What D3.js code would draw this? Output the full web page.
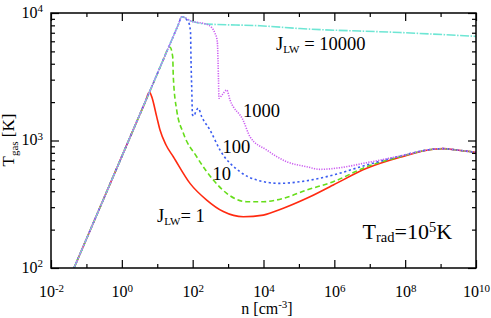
<!DOCTYPE html>
<html>
<head>
<meta charset="utf-8">
<script src="https://cdn.jsdelivr.net/npm/d3@7"></script>
<style>
body { margin: 0; background: #fff; }
</style>
</head>
<body>
<script>
// n [cm^-3] and T_gas [K], one pair of arrays per J_LW
var nJ1 = [0.0446, 1, 3.5, 4.6, 6.0, 6.97, 9.64, 11.97, 17.7, 28.4, 84.1, 249, 733, 2690, 9860, 36200, 1.66e5, 9.35e5, 8.2e6, 7.15e7, 6.24e8, 1.19e9, 2.85e9, 1e10];
var tJ1 = [100, 750, 1690, 2010, 2400, 2208, 1538, 1208, 922, 746, 461, 341, 277, 252, 260, 294, 352, 448, 605, 738, 853, 863, 842, 807];

var nJ10 = [0.0446, 1, 15, 19, 22.9, 27.3, 28.4, 35.4, 54.4, 130, 383, 914, 3360, 9860, 36200, 1.66e5, 9.35e5, 8.2e6, 7.15e7, 6.24e8, 1.19e9, 2.85e9, 1e10];
var tJ10 = [100, 750, 4340, 5080, 5385, 4540, 3162, 1734, 1145, 746, 490, 385, 331, 331, 352, 409, 475, 623, 746, 855, 863, 842, 807];

var nJ100 = [0.0446, 1, 30, 40, 49, 76.2, 86.9, 89.8, 94.4, 98.9, 109, 124, 144, 180, 309, 591, 2170, 6430, 29200, 1.07e5, 9.35e5, 8.2e6, 7.15e7, 6.24e8, 1.19e9, 2.85e9, 1e10];
var tJ100 = [100, 750, 6800, 8190, 9350, 8490, 7100, 4277, 2489, 1585, 1556, 1702, 1790, 1538, 1208, 842, 569, 490, 461, 475, 536, 643, 755, 855, 863, 842, 807];

var nJ1000 = [0.0446, 1, 30, 40, 49, 84, 276, 428, 497, 519, 536, 554, 673, 914, 1132, 2640, 4160, 12300, 45200, 1.66e5, 3.94e5, 1.45e6, 8.2e6, 7.15e7, 6.24e8, 1.19e9, 2.85e9, 1e10];
var tJ1000 = [100, 750, 6800, 8190, 9350, 8710, 8050, 6930, 5960, 4277, 2985, 2143, 2275, 2489, 2080, 1449, 1071, 842, 682, 623, 594, 612, 670, 755, 855, 863, 842, 807];

var nJ10000 = [0.0446, 1, 30, 40, 49, 94, 249, 7960, 1.07e5, 7.15e7, 1e10];
var tJ10000 = [100, 750, 6800, 8190, 9350, 8600, 8200, 7940, 7550, 7030, 6560];

// ticks
var xMajor = [1e-2, 1e0, 1e2, 1e4, 1e6, 1e8, 1e10];
var xMinor = [1e-1, 1e1, 1e3, 1e5, 1e7, 1e9];
var yMajor = [1e2, 1e3, 1e4];
var yMinor = [200, 300, 400, 500, 600, 700, 800, 900, 2000, 3000, 4000, 5000, 6000, 7000, 8000, 9000];

var series = [
  { n: nJ1, t: tJ1, color: '#ff2a10', dash: null },
  { n: nJ10, t: tJ10, color: '#66dd1a', dash: '5,3' },
  { n: nJ100, t: tJ100, color: '#3a5cf0', dash: '2.2,2.6' },
  { n: nJ10000, t: tJ10000, color: '#6ee6d4', dash: '9,1.5,1.5,1.5' },
  { n: nJ1000, t: tJ1000, color: '#cc5ff0', dash: '1.2,1.3' }
];

var serif = '"Liberation Serif", "DejaVu Serif", "Times New Roman", serif';

var svg = d3.select('body').append('svg')
  .attr('width', 491)
  .attr('height', 318)
  .style('font-family', serif);

var margin = { top: 13, right: 15, bottom: 50, left: 51 },
  width = 491 - margin.left - margin.right,
  height = 318 - margin.top - margin.bottom;

var g = svg.append('g').attr('transform', 'translate(' + margin.left + ',' + margin.top + ')');

var x = d3.scaleLog().domain([1e-2, 1e10]).range([0, width]);
var y = d3.scaleLog().domain([1e2, 1e4]).range([height, 0]);

g.append('clipPath').attr('id', 'clip')
  .append('rect').attr('width', width).attr('height', height);

var line = d3.line()
  .x(function (d) { return x(d[0]); })
  .y(function (d) { return y(d[1]); })
  .curve(d3.curveMonotoneX);

g.append('g').attr('clip-path', 'url(#clip)')
  .selectAll('path')
  .data(series)
  .enter().append('path')
  .attr('d', function (d) { return line(d3.zip(d.n, d.t)); })
  .attr('fill', 'none')
  .attr('stroke', function (d) { return d.color; })
  .attr('stroke-width', 1.6)
  .attr('stroke-dasharray', function (d) { return d.dash; });

function sup(sel) {
  sel.selectAll('.tick text').each(function (d) {
    var t = d3.select(this).text('10');
    t.append('tspan')
      .attr('dy', '-0.5em')
      .attr('font-size', 11)
      .text(Math.round(Math.log10(d)));
  });
}

function clean(sel) {
  sel.select('.domain').remove();
  sel.attr('font-family', serif).attr('font-size', 16);
  sel.selectAll('.tick line').attr('stroke-width', 1.2);
}

// bottom
g.append('g').attr('transform', 'translate(0,' + height + ')')
  .call(d3.axisBottom(x).tickValues(xMajor).tickSize(-8).tickPadding(18))
  .call(clean).call(sup);
g.append('g').attr('transform', 'translate(0,' + height + ')')
  .call(d3.axisBottom(x).tickValues(xMinor).tickSize(-4).tickFormat(''))
  .call(clean);
// top
g.append('g')
  .call(d3.axisTop(x).tickValues(xMajor).tickSize(-8).tickFormat(''))
  .call(clean);
g.append('g')
  .call(d3.axisTop(x).tickValues(xMinor).tickSize(-4).tickFormat(''))
  .call(clean);
// left
g.append('g')
  .call(d3.axisLeft(y).tickValues(yMajor).tickSize(-8).tickPadding(8))
  .call(clean).call(sup)
  .selectAll('.tick text').attr('dy', '0.25em');
g.append('g')
  .call(d3.axisLeft(y).tickValues(yMinor).tickSize(-4).tickFormat(''))
  .call(clean);
// right
g.append('g').attr('transform', 'translate(' + width + ',0)')
  .call(d3.axisRight(y).tickValues(yMajor).tickSize(-8).tickFormat(''))
  .call(clean);
g.append('g').attr('transform', 'translate(' + width + ',0)')
  .call(d3.axisRight(y).tickValues(yMinor).tickSize(-4).tickFormat(''))
  .call(clean);

g.append('rect')
  .attr('width', width)
  .attr('height', height)
  .attr('fill', 'none')
  .attr('stroke', '#000')
  .attr('stroke-width', 1.5);

// axis titles
var yt = svg.append('text')
  .attr('transform', 'translate(14,140) rotate(-90)')
  .attr('text-anchor', 'middle')
  .attr('font-size', 17)
  .text('T');
yt.append('tspan').attr('font-size', 11).attr('dy', 4).text('gas');
yt.append('tspan').attr('dy', -4).text(' [K]');

var xt = svg.append('text')
  .attr('x', 267)
  .attr('y', 314)
  .attr('text-anchor', 'middle')
  .attr('font-size', 16)
  .text('n [cm');
xt.append('tspan').attr('font-size', 11).attr('dy', -6).text('-3');
xt.append('tspan').attr('dy', 6).text(']');

// curve labels
function jlw(px, py, rest) {
  var t = svg.append('text')
    .attr('x', px)
    .attr('y', py)
    .attr('font-size', 18.5)
    .text('J');
  t.append('tspan').attr('font-size', 11).attr('dy', 3).text('LW');
  t.append('tspan').attr('dy', -3).text(rest);
}
jlw(276, 50, ' = 10000');
jlw(157, 222, '= 1');

svg.append('text').attr('x', 243).attr('y', 117).attr('font-size', 18.5).text('1000');
svg.append('text').attr('x', 222.5).attr('y', 153).attr('font-size', 18.5).text('100');
svg.append('text').attr('x', 212.5).attr('y', 180).attr('font-size', 18.5).text('10');

var tr = svg.append('text')
  .attr('x', 362.5)
  .attr('y', 238.5)
  .attr('font-size', 22)
  .text('T');
tr.append('tspan').attr('font-size', 14.5).attr('dy', 3.5).text('rad');
tr.append('tspan').attr('dy', -3.5).text('=10');
tr.append('tspan').attr('font-size', 14.5).attr('dy', -7).text('5');
tr.append('tspan').attr('dy', 7).text('K');
</script>
</body>
</html>
